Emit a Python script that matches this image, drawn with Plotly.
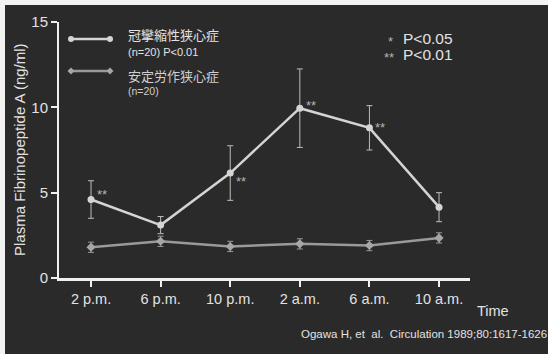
import plotly.graph_objects as go

times = ["2 p.m.", "6 p.m.", "10 p.m.", "2 a.m.", "6 a.m.", "10 a.m."]
vasospastic = [4.6, 3.1, 6.15, 9.95, 8.8, 4.15]
vasospastic_err = [1.1, 0.5, 1.6, 2.3, 1.3, 0.85]
stable = [1.8, 2.15, 1.85, 2.0, 1.9, 2.35]
stable_err = [0.3, 0.3, 0.3, 0.3, 0.3, 0.3]
sig_marks = ["**", "", "**", "**", "**", ""]

xs = list(range(len(times)))
BG = "#2a2a2a"
FG = "#e2e2e2"
MAIN = "#d4d4d4"
STAB = "#9a9a9a"
CJK = "Noto Sans CJK JP, Liberation Sans, sans-serif"
LAT = "Liberation Sans, Arial, sans-serif"

# plot area in page pixels; the figure itself is offset by OFF px (white strip top/left)
L, R, T, B = 59, 470, 22, 278
W, H = 548, 354
OFF = 5


def px_x(p):
    return (p - L) / float(R - L)


def px_y(p):
    return (B - p) / float(B - T)


fig = go.Figure()
fig.add_trace(go.Scatter(
    x=xs, y=vasospastic, mode="lines+markers", showlegend=False,
    line=dict(color=MAIN, width=2.5),
    marker=dict(symbol="circle", size=7, color=MAIN),
    error_y=dict(type="data", array=vasospastic_err, color="#bdbdbd", thickness=1, width=3),
))
fig.add_trace(go.Scatter(
    x=xs, y=stable, mode="lines+markers", showlegend=False,
    line=dict(color=STAB, width=2.5),
    marker=dict(symbol="diamond", size=7, color="#a6a6a6"),
    error_y=dict(type="data", array=stable_err, color=STAB, thickness=1, width=3),
))

# vertical offset (px) of each significance mark relative to its point
mark_shift = {0: 5, 2: -8, 3: 3, 4: 0}

annotations = []
for i, (x, y, s) in enumerate(zip(xs, vasospastic, sig_marks)):
    if s:
        annotations.append(dict(x=x, y=y, xref="x", yref="y", text=s, showarrow=False,
                                xanchor="left", yanchor="middle", xshift=4, yshift=mark_shift.get(i, 0),
                                font=dict(family=LAT, size=13, color="#b4b4b4")))


def txt(x, y, s, size, color=FG, family=LAT, anchor="left", angle=0):
    return dict(x=px_x(x), y=px_y(y), xref="paper", yref="paper", text=s, showarrow=False,
                xanchor=anchor, yanchor="middle", textangle=angle,
                font=dict(family=family, size=size, color=color))


annotations += [
    txt(386, 41, "*", 13, "#b4b4b4"),
    txt(401, 38, "P<0.05", 15.5),
    txt(382, 57, "**", 13, "#b4b4b4"),
    txt(401, 54, "P<0.01", 15.5),
    txt(475, 311, "Time", 14.5),
    txt(299, 334, "Ogawa H, et  al.  Circulation 1989;80:1617-1626", 11.5),
    txt(19, 150, "Plasma Fibrinopeptide A (ng/ml)", 15, anchor="center", angle=-90),
    # legend text
    txt(126, 34, "冠攣縮性狭心症", 13, family=CJK),
    txt(126, 52, "(n=20) P<0.01", 11),
    txt(126, 75, "安定労作狭心症", 13, "#cfcfcf", family=CJK),
    txt(126, 91, "(n=20)", 10.5, "#cfcfcf"),
]


def circ(cx, cy, r, color):
    return dict(type="circle", xref="paper", yref="paper",
                x0=px_x(cx - r), x1=px_x(cx + r), y0=px_y(cy + r), y1=px_y(cy - r),
                fillcolor=color, line=dict(width=0))


def diam(cx, cy, r, color):
    path = "M {} {} L {} {} L {} {} L {} {} Z".format(
        px_x(cx - r), px_y(cy), px_x(cx), px_y(cy - r), px_x(cx + r), px_y(cy), px_x(cx), px_y(cy + r))
    return dict(type="path", xref="paper", yref="paper", path=path, fillcolor=color, line=dict(width=0))


shapes = [
    dict(type="line", xref="paper", yref="paper", x0=px_x(71), x1=px_x(110), y0=px_y(39), y1=px_y(39),
         line=dict(color=MAIN, width=2.5)),
    circ(71, 39, 3, MAIN), circ(110, 39, 3, MAIN),
    dict(type="line", xref="paper", yref="paper", x0=px_x(71), x1=px_x(110), y0=px_y(71), y1=px_y(71),
         line=dict(color=STAB, width=2.5)),
    diam(71, 71, 3.5, "#a6a6a6"), diam(110, 71, 3.5, "#a6a6a6"),
]

fig.update_layout(
    width=W, height=H,
    margin=dict(l=L - OFF, r=W - (R - OFF), t=T - OFF, b=H - (B - OFF), autoexpand=False),
    paper_bgcolor=BG, plot_bgcolor=BG,
    font=dict(family=LAT, color=FG, size=13),
    showlegend=False,
    annotations=annotations,
    shapes=shapes,
    xaxis=dict(range=[-0.46, 5.445], tickvals=xs, ticktext=times, showgrid=False, zeroline=False,
               showline=True, linecolor="#f0f0f0", linewidth=3, ticks="outside", ticklen=6,
               tickwidth=2, tickcolor="#f0f0f0", tickfont=dict(family=LAT, size=14.5, color=FG)),
    yaxis=dict(range=[0, 15], tickvals=[0, 5, 10, 15], showgrid=False, zeroline=False,
               showline=True, linecolor="#f0f0f0", linewidth=2, ticks="outside", ticklen=6,
               tickwidth=2, tickcolor="#f0f0f0", tickfont=dict(family=LAT, size=15, color=FG)),
)

fig.write_html(
    "out.html", config={"displayModeBar": False},
    post_script="document.body.style.margin='0';document.body.style.padding='%dpx 0 0 %dpx';"
                "document.body.style.background='#f2f2f2';document.body.style.overflow='hidden';" % (OFF, OFF))
